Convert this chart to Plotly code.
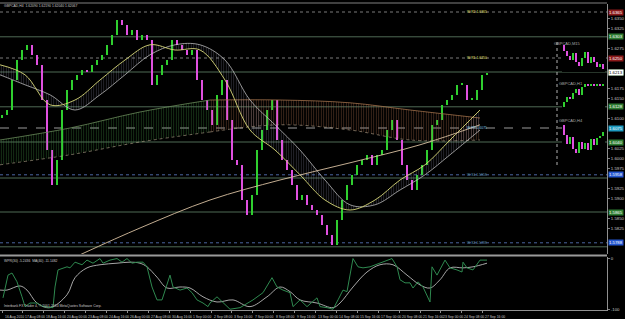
import plotly.graph_objects as go

# ---------------- data ----------------
first_open = 1.6100
closes = [1.6108, 1.6120, 1.6195, 1.6245, 1.6270, 1.6283, 1.6258, 1.6233, 1.6145, 1.6020,
          1.5933, 1.5995, 1.6120, 1.6170, 1.6195, 1.6208, 1.6220, 1.6215, 1.6233, 1.6245,
          1.6258, 1.6283, 1.6308, 1.6345, 1.6333, 1.6308, 1.6320, 1.6295, 1.6308, 1.6295,
          1.6183, 1.6208, 1.6233, 1.6245, 1.6295, 1.6283, 1.6270, 1.6258, 1.6270, 1.6195,
          1.6145, 1.6120, 1.6083, 1.6158, 1.6195, 1.6095, 1.5995, 1.5983, 1.5895, 1.5858,
          1.5908, 1.6020, 1.6070, 1.6120, 1.6145, 1.6045, 1.5995, 1.5970, 1.5933, 1.5895,
          1.5908, 1.5883, 1.5870, 1.5858, 1.5833, 1.5808, 1.5783, 1.5845, 1.5895, 1.5933,
          1.5958, 1.5983, 1.5995, 1.6008, 1.5983, 1.6008, 1.6020, 1.6070, 1.6095, 1.6045,
          1.5983, 1.5945, 1.5920, 1.5958, 1.5983, 1.6020, 1.6083, 1.6095, 1.6133, 1.6145,
          1.6158, 1.6183, 1.6183, 1.6145, 1.6145, 1.6170, 1.6208, 1.6213]

# slow cloud (two boundaries), split into an early (green) and late (brown) part
cloud_x = [-0.4, 13.6, 27.6, 41.6, 55.6, 69.6, 81.6, 95.6]
cloud_up = [1.6045, 1.6075, 1.6115, 1.6145, 1.6145, 1.6138, 1.6120, 1.6100]
cloud_lo = [1.5983, 1.6008, 1.6040, 1.6065, 1.6083, 1.6070, 1.6045, 1.6045]

# fast averages
ma_x = [-0.4, 4.6, 9.6, 14.6, 19.6, 24.6, 29.6, 34.6, 39.6, 44.6, 49.6, 54.6, 59.6, 64.6,
        69.6, 74.6, 79.6, 84.6, 89.6, 95.6]
ma_fast = [1.6233, 1.6208, 1.6133, 1.6145, 1.6195, 1.6245, 1.6283, 1.6270, 1.6270, 1.6195,
           1.6070, 1.6020, 1.5958, 1.5895, 1.5870, 1.5895, 1.5945, 1.5983, 1.6045, 1.6120]
ma_mid = [1.6208, 1.6183, 1.6158, 1.6120, 1.6158, 1.6208, 1.6258, 1.6283, 1.6283, 1.6245,
          1.6145, 1.6083, 1.6020, 1.5945, 1.5883, 1.5883, 1.5920, 1.5958, 1.6008, 1.6070]

# long average
ma_long_x = [15.6, 27.6, 41.6, 55.6, 69.6, 83.6, 95.6]
ma_long = [1.5758, 1.5825, 1.5895, 1.5945, 1.5988, 1.6033, 1.6083]

# horizontal levels
level_prices = [1.6365, 1.6303, 1.6250, 1.6215, 1.6128, 1.6075, 1.6040, 1.5958, 1.5950,
                1.5865, 1.5788, 1.5778]
level_names = ["W R2 1.6365", "", "W R1 1.6250", "", "", "W PP 1.6075", "", "W S1 1.5958",
               "", "", "W S2 1.5788", ""]

# oscillator panel
wpr_x = [0.2, 1.2, 2.0, 3.0, 4.0, 4.6, 5.6, 7.0, 8.2, 10.2, 10.6, 11.2, 13.0, 13.6, 14.6,
         16.0, 17.0, 18.2, 19.6, 20.2, 21.6, 23.0, 24.0, 25.0, 26.0, 27.0, 28.2, 29.0, 30.0,
         31.0, 32.0, 32.6, 33.6, 34.2, 35.6, 37.0, 38.0, 39.0, 40.2, 41.2, 41.6, 43.0, 45.6,
         47.6, 50.2, 52.2, 54.0, 55.0, 56.2, 57.6, 58.2, 59.6, 61.0, 63.0, 63.6, 65.0, 66.2,
         67.2, 68.2, 69.0, 70.2, 71.2, 72.2, 73.6, 75.6, 78.0, 79.0, 79.6, 80.6, 81.6, 82.2,
         83.2, 84.2, 85.6, 86.0, 87.0, 88.6, 89.6, 91.0, 92.0, 92.2, 93.0, 94.2, 95.6, 97.0]
wpr_vals = [-77, -33, -29, -46, -75, -94, -87, -87, -94, -96, -56, -23, -17, -19, -8,
            -13, -4, -10, -1, -10, -4, -1, -8, -1, -10, -8, -8, -17, -56, -81,
            -81, -62, -33, -56, -62, -58, -67, -81, -87, -94, -87, -75, -99, -96, -81,
            -67, -38, -56, -62, -67, -94, -81, -94, -77, -94, -96, -99, -81, -62, -65,
            -1, -17, -19, -17, -10, -1, -17, -42, -48, -48, -58, -46, -56, -85, -17,
            -33, -4, -19, -23, -27, -8, -19, -23, -4, -4]
sig_x = [-0.4, 1.0, 3.6, 5.0, 7.0, 9.6, 13.0, 14.6, 17.0, 19.6, 23.0, 25.6, 27.6, 29.0,
         31.0, 33.0, 35.6, 37.6, 40.2, 43.0, 46.2, 49.6, 53.0, 55.6, 57.6, 59.6, 63.0,
         66.2, 67.6, 70.2, 73.0, 75.6, 78.2, 81.0, 83.6, 85.6, 87.6, 89.6, 92.2, 94.2, 97.0]
sig_vals = [-62, -62, -54, -62, -87, -96, -71, -38, -19, -13, -10, -8, -10, -17, -37,
            -58, -56, -58, -75, -85, -81, -94, -75, -56, -65, -81, -87, -96, -87, -56,
            -27, -13, -13, -33, -52, -58, -42, -19, -19, -17, -10]

date_labels = ["16 Aug 2010", "17 Aug 08:00", "18 Aug 16:00", "20 Aug 00:00", "23 Aug 08:00",
               "24 Aug 16:00", "26 Aug 00:00", "27 Aug 08:00", "30 Aug 16:00", "1 Sep 00:00",
               "2 Sep 08:00", "3 Sep 16:00", "7 Sep 00:00", "8 Sep 08:00", "9 Sep 16:00",
               "13 Sep 00:00", "14 Sep 08:00", "15 Sep 16:00", "17 Sep 00:00", "20 Sep 08:00",
               "21 Sep 16:00", "23 Sep 00:00", "24 Sep 08:00", "27 Sep 16:00"]
price_ticks = [1.5775, 1.5800, 1.5825, 1.5850, 1.5875, 1.5900, 1.5925, 1.5950, 1.5975,
               1.6000, 1.6025, 1.6050, 1.6075, 1.6100, 1.6125, 1.6150, 1.6175, 1.6200,
               1.6225, 1.6250, 1.6275, 1.6300, 1.6325, 1.6350, 1.6375]

# mini charts (other timeframes)
m15_open0, m15_close = 1.6240, [1.6230, 1.6222, 1.6215, 1.6226, 1.6212, 1.6205, 1.6218,
                                1.6228, 1.6210, 1.6220, 1.6212, 1.6203, 1.6209, 1.6200]
h1_open0, h1_close = 1.6100, [1.6120, 1.6140, 1.6135, 1.6160, 1.6175, 1.6150, 1.6185,
                              1.6195, 1.6190, 1.6198, 1.6192, 1.6196, 1.6190, 1.6194]
h4_open0, h4_close = 1.6120, [1.6100, 1.6080, 1.6095, 1.6070, 1.6060, 1.6085, 1.6070,
                              1.6082, 1.6068, 1.6090, 1.6078, 1.6092, 1.6098, 1.6105]

# ---------------- figure ----------------
UP, DN = "#2fcf2f", "#e050e0"
FONT = "Liberation Sans"
H = 319.0
T, B = 3, 8
PH = H - T - B
TINY = 3.4


def py(pix):
    """pixel row -> paper y"""
    return (H - B - pix) / PH


fig = go.Figure()


def bar_trace(o0, cl, xa, ya, width):
    opens = [o0] + cl[:-1]
    xs = list(range(len(cl)))
    base = [min(o, c) for o, c in zip(opens, cl)]
    hgt = [max(abs(c - o), 0.0004) for o, c in zip(opens, cl)]
    col = [UP if c >= o else DN for o, c in zip(opens, cl)]
    return go.Bar(x=xs, y=hgt, base=base, marker_color=col, marker_line_width=0,
                  width=width, xaxis=xa, yaxis=ya, hoverinfo="skip", showlegend=False)


patt = lambda c, s: dict(shape="|", fgcolor=c, bgcolor="rgba(0,0,0,0)", size=2.5,
                         solidity=s, fillmode="replace")

# slow cloud: green part then brown part
split = 3
for xs, col, pc in [(slice(0, split + 1), "#6a8a5a", "rgba(60,130,60,0.75)"),
                    (slice(split, None), "#a0704a", "rgba(150,95,65,0.8)")]:
    fig.add_trace(go.Scatter(x=cloud_x[xs], y=cloud_up[xs], mode="lines",
                             line=dict(color=col, width=0.8, shape="spline"),
                             showlegend=False, hoverinfo="skip"))
    fig.add_trace(go.Scatter(x=cloud_x[xs], y=cloud_lo[xs], mode="lines",
                             line=dict(color="#b8a890", width=0.6, dash="dot", shape="spline"),
                             fill="tonexty", fillcolor="rgba(0,0,0,0)",
                             fillpattern=patt(pc, 0.2), showlegend=False, hoverinfo="skip"))

# fast band
fig.add_trace(go.Scatter(x=ma_x, y=ma_mid, mode="lines",
                         line=dict(color="#d0d0d0", width=0.7, shape="spline"),
                         showlegend=False, hoverinfo="skip"))
fig.add_trace(go.Scatter(x=ma_x, y=ma_fast, mode="lines",
                         line=dict(color="#d8d878", width=0.9, shape="spline"),
                         fill="tonexty", fillcolor="rgba(0,0,0,0)",
                         fillpattern=patt("rgba(170,170,200,0.6)", 0.15),
                         showlegend=False, hoverinfo="skip"))

# price bars
fig.add_trace(bar_trace(first_open, closes, "x", "y", 0.45))

# long MA
fig.add_trace(go.Scatter(x=ma_long_x, y=ma_long, mode="lines",
                         line=dict(color="#d8c0a0", width=0.9, shape="spline"),
                         showlegend=False, hoverinfo="skip"))

# oscillator
fig.add_trace(go.Scatter(x=sig_x, y=sig_vals, mode="lines", xaxis="x2", yaxis="y2",
                         line=dict(color="#d0d0d0", width=0.8, shape="spline"),
                         showlegend=False, hoverinfo="skip"))
fig.add_trace(go.Scatter(x=wpr_x, y=wpr_vals, mode="lines", xaxis="x2", yaxis="y2",
                         line=dict(color="#2f8a50", width=1),
                         showlegend=False, hoverinfo="skip"))

# mini charts
fig.add_trace(bar_trace(m15_open0, m15_close, "x3", "y3", 0.4))
fig.add_trace(bar_trace(h1_open0, h1_close, "x4", "y4", 0.4))
fig.add_trace(bar_trace(h4_open0, h4_close, "x5", "y5", 0.4))

# ---------------- levels ----------------
level_styles = ["dot", "solid", "dot", "solid", "solid", "dash", "solid", "dot", "solid",
                "solid", "dot", "solid"]
level_colors = ["#7a7a7a", "#4f6a55", "#7a7a7a", "#4f6a55", "#4f6a55", "#9a9a9a", "#4f6a55",
                "#4a64a0", "#4f6a55", "#4f6a55", "#4a64a0", "#4f6a55"]
text_colors = ["#e8e070", "", "#e8e070", "", "", "#80c8e8", "", "#5f90b0", "", "", "#5f90b0", ""]
box_colors = ["#8b1a1a", "#2e7d32", "#8b1a1a", "#2e7d32", "#2e7d32", "#1c9ac0", "#2e7d32",
              "#2456d0", None, "#2e7d32", "#2456d0", None]
shapes = []
annotations = []
box_levels = [closes[-1]]
for p, nm, st, lc, tc, bc in zip(level_prices, level_names, level_styles, level_colors,
                                 text_colors, box_colors):
    shapes.append(dict(type="line", xref="paper", x0=0, x1=1, yref="y", y0=p, y1=p,
                       line=dict(color=lc, width=1, dash=st), layer="below"))
    if nm:
        annotations.append(dict(x=95, y=p, xref="x", yref="y", text=nm, showarrow=False,
                                xanchor="center", yanchor="middle",
                                font=dict(family=FONT, size=TINY, color=tc)))
    if bc:
        box_levels.append(p)
        annotations.append(dict(x=1, y=p, xref="paper", yref="y", text=f"{p:.4f}",
                                showarrow=False, xanchor="left", xshift=1, bgcolor=bc,
                                borderpad=0, font=dict(family=FONT, size=4.3, color="#ffffff")))
# current price box
annotations.append(dict(x=1, y=closes[-1], xref="paper", yref="y", text=f"{closes[-1]:.4f}",
                        showarrow=False, xanchor="left", xshift=1, bgcolor="#ffffff",
                        borderpad=0, font=dict(family=FONT, size=4.3, color="#000000")))
# keep only axis labels that do not sit under a level box
shown_ticks = [t for t in price_ticks if all(abs(t - b) > 0.0015 for b in box_levels)]

# panel separators, border, vertical dotted divider for mini charts
shapes.append(dict(type="line", xref="paper", x0=0, x1=1, yref="paper", y0=py(255.5),
                   y1=py(255.5), line=dict(color="#9a9a9a", width=2)))
shapes.append(dict(type="line", xref="paper", x0=0, x1=1, yref="paper", y0=1, y1=1,
                   line=dict(color="#808080", width=1)))
shapes.append(dict(type="line", xref="paper", x0=557 / 607, x1=557 / 607, yref="paper",
                   y0=py(165), y1=py(40), line=dict(color="#b0b0b0", width=1, dash="dot")))

# texts
small = dict(family=FONT, size=TINY, color="#c8c8c8")
annotations += [
    dict(x=0.004, y=py(6), xref="paper", yref="paper", xanchor="left", yanchor="middle",
         text="GBPCAD,H4  1.62090 1.62190 1.62040 1.62067", showarrow=False, font=small),
    dict(x=0.004, y=py(261), xref="paper", yref="paper", xanchor="left", yanchor="middle",
         text="WPR(30) -5.2436  MA(40) -11.1482", showarrow=False, font=small),
    dict(x=0.004, y=py(306), xref="paper", yref="paper", xanchor="left", yanchor="middle",
         text="Interbank FX Trader 4, © 2001-2010 MetaQuotes Software Corp.",
         showarrow=False, font=small),
    dict(x=583 / 607, y=py(39), xref="paper", yref="paper", text="GBPCAD,M15",
         showarrow=False, font=dict(family=FONT, size=4, color="#a8a8a8")),
    dict(x=585 / 607, y=py(79), xref="paper", yref="paper", text="GBPCAD,H1",
         showarrow=False, font=dict(family=FONT, size=4, color="#a8a8a8")),
    dict(x=585 / 607, y=py(121), xref="paper", yref="paper", text="GBPCAD,H4",
         showarrow=False, font=dict(family=FONT, size=4, color="#a8a8a8")),
]
tick_pos = [4.18 * k for k in range(len(date_labels))]
for tx, lab in zip(tick_pos, date_labels):
    annotations.append(dict(x=tx, y=0, xref="x2", yref="paper", text=lab, showarrow=False,
                            xanchor="left", yanchor="top", yshift=-1.5, xshift=0.5,
                            font=dict(family=FONT, size=TINY, color="#c8c8c8")))

XR = [-0.4, 121.0]
mini_x = [562 / 607, 605 / 607]
hidden = dict(visible=False, showgrid=False, zeroline=False)
fig.update_layout(
    width=625, height=319, margin=dict(l=0, r=18, t=T, b=B),
    paper_bgcolor="#000000", plot_bgcolor="#000000", barmode="overlay", bargap=0,
    showlegend=False, shapes=shapes, annotations=annotations,
    xaxis=dict(domain=[0, 1], range=XR, anchor="y", visible=False, showgrid=False),
    yaxis=dict(domain=[py(254), py(4)], range=[1.5760, 1.6385], side="right", anchor="x",
               tickvals=shown_ticks, tickformat=".4f", ticks="outside", ticklen=2,
               tickcolor="#808080", tickfont=dict(family=FONT, size=4.3, color="#c8c8c8"),
               showgrid=False, zeroline=False, showline=True, linecolor="#909090"),
    xaxis2=dict(domain=[0, 1], range=XR, anchor="y2", matches="x", tickvals=tick_pos,
                ticks="outside", ticklen=2, tickcolor="#909090", showticklabels=False,
                showgrid=False, zeroline=False, showline=True, linecolor="#909090"),
    yaxis2=dict(domain=[py(310), py(257)], range=[-100.5, 2], side="right", anchor="x2",
                tickvals=[0, -100], ticktext=["0", "-100"], ticks="outside", ticklen=2,
                tickcolor="#808080", tickfont=dict(family=FONT, size=4.3, color="#c8c8c8"),
                showgrid=False, zeroline=False, showline=True, linecolor="#909090"),
    xaxis3=dict(domain=mini_x, anchor="y3", range=[-0.6, 13.6], **hidden),
    yaxis3=dict(domain=[py(72), py(42)], anchor="x3", range=[1.6195, 1.6245], **hidden),
    xaxis4=dict(domain=mini_x, anchor="y4", range=[-0.6, 13.6], **hidden),
    yaxis4=dict(domain=[py(108), py(82)], anchor="x4", range=[1.6095, 1.6205], **hidden),
    xaxis5=dict(domain=mini_x, anchor="y5", range=[-0.6, 13.6], **hidden),
    yaxis5=dict(domain=[py(158), py(123)], anchor="x5", range=[1.6050, 1.6125], **hidden),
)

fig.write_html("out.html")
